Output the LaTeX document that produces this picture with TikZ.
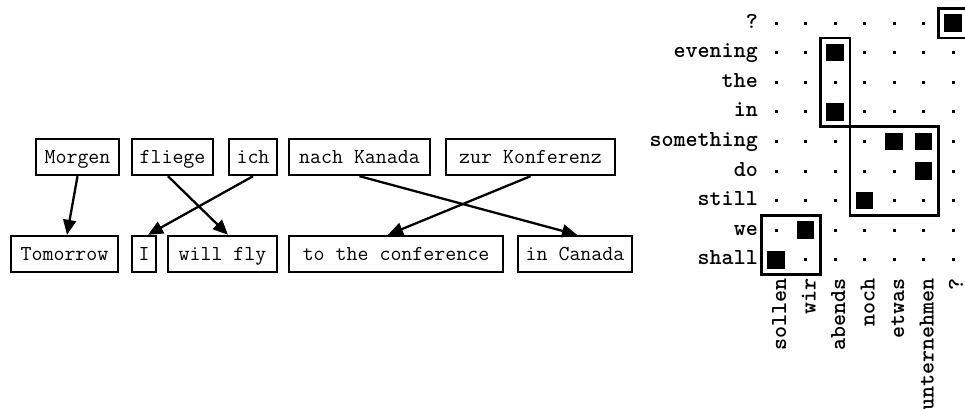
\documentclass[tikz,border=0pt]{standalone}
\usetikzlibrary{arrows.meta}
\begin{document}
\begin{tikzpicture}[x=1pt,y=-1pt,
  word/.style={draw, line width=2.4pt, inner sep=0pt, minimum height=36pt,
    text height=12.5pt, text depth=0pt,
    font=\fontsize{21.3pt}{24pt}\selectfont\ttfamily},
  link/.style={line width=2.3pt, -{Triangle[length=15pt,width=13pt]}},
  lab/.style={inner sep=0pt, font=\fontsize{22.9pt}{26pt}\selectfont\ttfamily\bfseries},
  grp/.style={line width=2.5pt},
  dotmark/.style={fill=black},
  cellmark/.style={fill=black}]
\useasboundingbox (0,0) rectangle (965,408);
\clip (0,0) rectangle (965,408);
% German words
\node[word, minimum width=83pt]  (morgen) at (77.5,157) {Morgen};
\node[word, minimum width=81pt]  (fliege) at (172.5,157) {fliege};
\node[word, minimum width=48pt]  (ich)    at (253,157) {ich};
\node[word, minimum width=141pt] (nach)   at (359.5,157) {nach Kanada};
\node[word, minimum width=169pt] (zur)    at (530.5,157) {zur Konferenz};
% English words
\node[word, minimum width=107pt] (tomorrow) at (64.5,254) {Tomorrow};
\node[word, minimum width=24pt]  (i)        at (144,254) {I};
\node[word, minimum width=109pt] (willfly)  at (222.5,254) {will fly};
\node[word, minimum width=214pt] (conf)     at (396,254) {to the conference};
\node[word, minimum width=114pt] (canada)   at (575,254) {in Canada};
% links
\draw[link] (morgen.south) -- ([xshift=2.5pt]tomorrow.north);
\draw[link] ([xshift=-4.5pt]fliege.south) -- ([xshift=5.5pt]willfly.north);
\draw[link] (ich.south) -- ([xshift=4pt]i.north);
\draw[link] (nach.south) -- ([xshift=2pt]canada.north);
\draw[link] (zur.south) -- ([xshift=-8pt]conf.north);
% alignment matrix
\foreach \j in {0,...,6}
  \foreach \k in {0,...,8}
    \fill[dotmark] ({776+29.5*\j-1.5},{23+29.6*\k-1.5}) rectangle +(3,3);
\foreach \j/\k in {6/0,2/1,2/3,4/4,5/4,5/5,3/6,1/7,0/8}
  \fill[cellmark] ({776+29.5*\j-8.75},{23+29.6*\k-8.75}) rectangle +(17.5,17.5);
\foreach \w [count=\k from 0] in {?,evening,the,in,something,do,still,we,shall}
  \node[lab, anchor=base east] (r\k) at (758,{23+29.6*\k+5}) {\w};
\foreach \w [count=\j from 0] in {sollen,wir,abends,noch,etwas,unternehmen,?}
  \node[lab, rotate=90, anchor=base east] (c\j) at ({776+29.5*\j+10},278) {\w};
% phrase boxes
\draw[grp] (938.25,8.25) rectangle (967.75,37.75);
\draw[grp] (820.25,37.8) rectangle (849.75,126.6);
\draw[grp] (849.75,126.6) rectangle (938.25,215.4);
\draw[grp] (761.25,215.4) rectangle (820.5,274.6);
\end{tikzpicture}
\end{document}
